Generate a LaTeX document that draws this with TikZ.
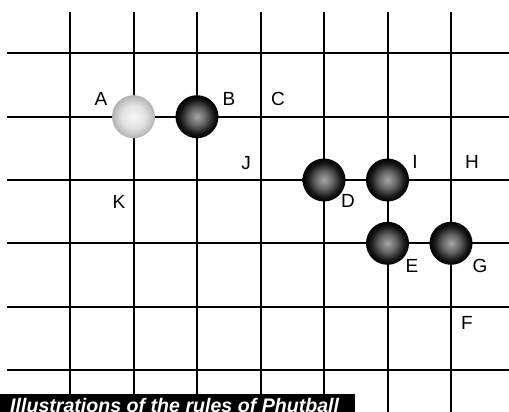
\documentclass[tikz,border=0pt]{standalone}
\usepackage{fontspec}
\setmainfont{Liberation Sans}
\pgfdeclareradialshading{blackball}{\pgfpoint{0bp}{0bp}}{color(0bp)=(black!35); color(10bp)=(black!60); color(20bp)=(black!92); color(25bp)=(black); color(50bp)=(black)}
\pgfdeclareradialshading{whiteball}{\pgfpoint{0bp}{0bp}}{color(0bp)=(black!3); color(14bp)=(black!12); color(25bp)=(black!30); color(50bp)=(black!30)}
\begin{document}
\begin{tikzpicture}[x=1pt,y=-1pt,
  gridline/.style={line width=2pt,black},
  lbl/.style={font=\fontsize{19}{19}\selectfont, inner sep=0},
  stone/.style={circle, minimum size=43pt, inner sep=0},
  blackstone/.style={stone, shading=blackball},
  whitestone/.style={stone, shading=whiteball},
  banner/.style={fill=black, inner sep=0}]
\useasboundingbox (0,0) rectangle (509,412);
% grid
\foreach \x in {70,133.5,197,260.5,324,387.5,451}
  \draw[gridline] (\x,12) -- (\x,413);
\foreach \y in {53.3,116.7,180,243.3,306.7,370}
  \draw[gridline] (7,\y) -- (510,\y);
% stones
\node[whitestone] (wA) at (133.5,116.7) {};
\node[blackstone] (bB) at (197,116.7) {};
\node[blackstone] (bD) at (324,180) {};
\node[blackstone] (bI) at (387.5,180) {};
\node[blackstone] (bE) at (387.5,243.3) {};
\node[blackstone] (bG) at (451,243.3) {};
% labels
\node[lbl] (A) at (101,99) {A};
\node[lbl] (B) at (229,99) {B};
\node[lbl] (C) at (278,99) {C};
\node[lbl] (J) at (246,163) {J};
\node[lbl] (I) at (415,162) {I};
\node[lbl] (H) at (472,162) {H};
\node[lbl] (K) at (119,202) {K};
\node[lbl] (D) at (348,201) {D};
\node[lbl] (E) at (412,266) {E};
\node[lbl] (G) at (480,266) {G};
\node[lbl] (F) at (467,323) {F};
% banner
\fill[black] (0,394) rectangle (355,413);
\node[anchor=base west, inner sep=0, text=white, font=\fontsize{19.6}{20}\selectfont\bfseries\itshape] (title) at (10,412) {Illustrations of the rules of Phutball};
\end{tikzpicture}
\end{document}
